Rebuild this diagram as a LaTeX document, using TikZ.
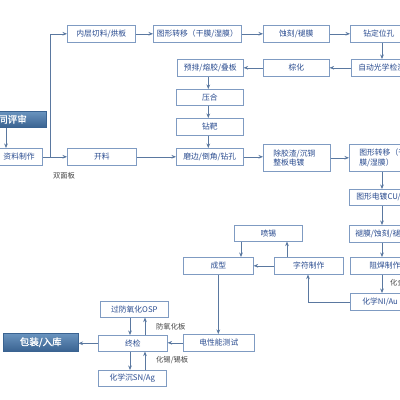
\documentclass[tikz,border=0pt]{standalone}
\usepackage{fontspec}
\newfontfamily\cjk{Noto Sans CJK SC}
\newfontfamily\cjkb[FakeBold=1.2]{Noto Sans CJK SC}
\usetikzlibrary{arrows.meta,calc}
\definecolor{boxc}{HTML}{7F9BC2}
\definecolor{txtc}{HTML}{2A4C90}
\definecolor{arrc}{HTML}{5A78A0}
\definecolor{darktop}{HTML}{6A94BF}
\definecolor{darkbot}{HTML}{3A6391}
\definecolor{lblc}{HTML}{444444}
\tikzset{
  box/.style={draw=boxc, line width=0.6pt, fill=white, text=txtc,
    font=\cjk\fontsize{7.8}{9.5}\selectfont, minimum height=17pt,
    inner ysep=0pt, inner xsep=1pt, anchor=north west},
  cbox/.style={box, align=left},
  dbox/.style={draw=darkbot, line width=0.5pt, top color=darktop, bottom color=darkbot,
    text=white, font=\cjkb\fontsize{9.5}{11}\selectfont, minimum height=17pt, inner ysep=0pt},
  arr/.style={draw=arrc, line width=0.6pt, -{Stealth[length=4.5pt,width=3.6pt]}},
  lbl/.style={text=lblc, font=\cjk\fontsize{7.3}{9}\selectfont, inner sep=0pt}
}
\begin{document}
\begin{tikzpicture}[x=1pt,y=-1pt]
\clip (0,0) rectangle (400,400);
\fill[white] (0,0) rectangle (400,400);
% row 1
\node[box, minimum width=68pt] (inner) at (67,25) {内层切料/烘板};
\node[box, minimum width=88pt] (tx1) at (153,25) {图形转移（干膜/湿膜）};
\node[box, minimum width=66pt] (etch) at (263,25) {蚀刻/褪膜};
\node[cbox, text width=60pt, inner xsep=13pt] (drill) at (350,25) {钻定位孔};
% row 2
\node[cbox, text width=60pt, inner xsep=7pt] (aoi) at (351,59) {自动光学检测};
\node[box, minimum width=66pt] (brown) at (263,59) {棕化};
\node[box, minimum width=66pt] (prelam) at (177,59) {预排/熔胶/叠板};
% column
\node[box, minimum width=67pt, minimum height=16pt] (press) at (176,89) {压合};
\node[box, minimum width=67pt] (target) at (176,118) {钻靶};
\node[box, minimum width=67pt] (grind) at (176,148) {磨边/倒角/钻孔};
\node[box, minimum width=69pt] (cut) at (67,148) {开料};
\node[box, anchor=north east, text width=70pt, inner xsep=8pt, align=right] (data) at (43,148) {资料制作};
\node[dbox, anchor=north east, text width=70pt, inner xsep=19pt, align=right, minimum height=16pt] (review) at (46,111) {合同评审};
% row 4 right
\node[cbox, text width=47pt, inner xsep=10pt, minimum height=27pt] (desmear) at (263,144) {除胶渣/沉铜\\整板电镀};
\node[cbox, text width=60pt, inner xsep=10pt, minimum height=27pt] (tx2) at (349,144) {图形转移（干\\膜/湿膜）};
\node[cbox, text width=60pt, inner xsep=7pt, minimum height=16pt] (plate) at (349,189) {图形电镀CU/SN};
\node[cbox, text width=60pt, inner xsep=6pt] (strip) at (349,225) {褪膜/蚀刻/褪锡};
\node[cbox, text width=60pt, inner xsep=19pt] (mask) at (350,257) {阻焊制作};
\node[cbox, text width=60pt, inner xsep=12pt] (ni) at (350,293) {化学NI/Au};
\node[box, minimum width=69pt] (legend) at (274,257) {字符制作};
\node[box, minimum width=68pt, minimum height=16pt] (hasl) at (234,225) {喷锡};
\node[box, minimum width=70pt] (profile) at (183,257) {成型};
\node[box, minimum width=71pt] (et) at (183,334) {电性能测试};
\node[box, minimum width=69pt, minimum height=16pt] (fqc) at (98,335) {终检};
\node[box, minimum width=68pt, minimum height=16pt] (osp) at (100,301) {过防氧化OSP};
\node[box, minimum width=68pt, minimum height=16pt] (imm) at (98,370) {化学沉SN/Ag};
\node[dbox, anchor=north west, minimum width=75pt, minimum height=18pt] (pack) at (3,333) {包装/入库};
% labels
\node[lbl] (l1) at (64,176) {双面板};
\node[lbl, anchor=west] (l2) at (156,327) {防氧化板};
\node[lbl, anchor=west] (l3) at (156,360) {化锡/锡板};
\node[lbl, anchor=west] (l4) at (390,283) {化金板};
% connectors
\draw[arr] (6,0 |- review.south) -- (6,0 |- data.north);
\draw[arr] (data.east) -- (cut.west);
\coordinate (b1) at ($(data.east)+(7,0)$);
\draw[arr] (b1) |- (inner.west);
\draw[arr] (inner.east) -- (tx1.west);
\draw[arr] (tx1.east) -- (etch.west);
\draw[arr] (etch.east) -- (drill.west);
\coordinate (d1) at ($(drill.south west)+(32,0)$);
\draw[arr] (d1) -- (d1 |- aoi.north);
\draw[arr] (aoi.west) -- (brown.east);
\draw[arr] (brown.west) -- (prelam.east);
\coordinate (v1) at ($(prelam.south)+(-2,0)$);
\draw[arr] (v1) -- (v1 |- press.north);
\draw[arr] (v1 |- press.south) -- (v1 |- target.north);
\draw[arr] (v1 |- target.south) -- (v1 |- grind.north);
\draw[arr] (cut.east) -- (grind.west);
\draw[arr] (grind.east) -- (grind.east -| desmear.west);
\draw[arr] (desmear.east) -- (tx2.west);
\coordinate (v2) at ($(tx2.south west)+(33,0)$);
\draw[arr] (v2) -- (v2 |- plate.north);
\draw[arr] (v2 |- plate.south) -- (v2 |- strip.north);
\draw[arr] (v2 |- strip.south) -- (v2 |- mask.north);
\draw[arr] (v2 |- mask.south) -- (v2 |- ni.north);
\coordinate (v3) at ($(legend.south west)+(34,0)$);
\draw[arr] (ni.west) -| (v3);
\draw[arr] (legend.west) -- (profile.east);
\coordinate (v4) at ($(legend.north west)+(13,0)$);
\draw[arr] (v4) -- (v4 |- hasl.south);
\coordinate (v5) at ($(hasl.south west)+(7,0)$);
\draw[arr] (v5) -- (v5 |- profile.north);
\draw[arr] (profile.south) -- (profile.south |- et.north);
\draw[arr] (et.west) -- (et.west -| fqc.east);
\draw[arr] (fqc.west) -- (fqc.west -| pack.east);
\coordinate (v6) at ($(osp.south west)+(30,0)$);
\draw[arr] (v6) -- (v6 |- fqc.north);
\coordinate (v7) at ($(fqc.north west)+(47,0)$);
\draw[arr] (v7) -- (v7 |- osp.south);
\coordinate (v8) at ($(fqc.south west)+(32,0)$);
\draw[arr] (v8) -- (v8 |- imm.north);
\coordinate (v9) at ($(imm.north west)+(47,0)$);
\draw[arr] (v9) -- (v9 |- fqc.south);
\end{tikzpicture}
\end{document}
